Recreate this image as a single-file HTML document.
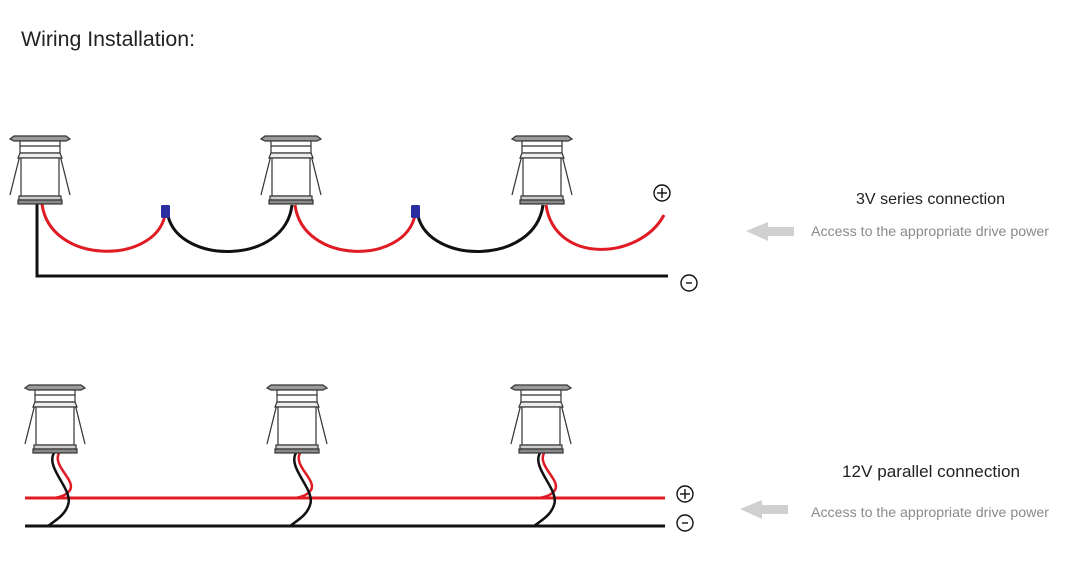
<!DOCTYPE html>
<html><head><meta charset="utf-8"><style>
html,body{margin:0;padding:0;background:#fff;}
svg{display:block;}
</style></head><body>
<svg width="1087" height="562" viewBox="0 0 1087 562" xmlns="http://www.w3.org/2000/svg">
<defs>
<g id="lamp" stroke="#333" stroke-width="1.2" fill="#fff">
<line x1="-17" y1="7" x2="-30" y2="59"/>
<line x1="17" y1="7" x2="30" y2="59"/>
<polygon points="-30,3 -26,0 26,0 30,3 26,5 -26,5" fill="#9a9a9a"/>
<rect x="-20" y="5" width="40" height="12"/>
<line x1="-20" y1="10" x2="20" y2="10"/>
<polygon points="-20,17 20,17 22,22 -22,22" fill="#eee"/>
<rect x="-19" y="22" width="38" height="38"/>
<rect x="-21" y="60" width="42" height="4" fill="#ccc"/>
<rect x="-22" y="64" width="44" height="4" fill="#888"/>
</g>
</defs>
<text x="21" y="46" font-family="Liberation Sans, sans-serif" font-size="21" fill="#222" textLength="174" lengthAdjust="spacingAndGlyphs">Wiring Installation:</text>

<!-- top series -->
<g fill="none" stroke-width="3">
<polyline points="37,204 37,276 668,276" stroke="#111"/>
<path d="M42,204 C50,265 155,265 165,215" stroke="#e01b24"/>
<path d="M168,216 C180,265 285,265 292,205" stroke="#111"/>
<path d="M295,205 C303,265 405,265 415,215" stroke="#e01b24"/>
<path d="M418,216 C430,265 535,265 543,205" stroke="#111"/>
<path d="M546,205 C555,265 640,260 664,215" stroke="#e01b24"/>
</g>
<rect x="161" y="205" width="9" height="13" rx="1.5" fill="#2a2ea0"/>
<rect x="411" y="205" width="9" height="13" rx="1.5" fill="#2a2ea0"/>
<use href="#lamp" x="40" y="136"/>
<use href="#lamp" x="291" y="136"/>
<use href="#lamp" x="542" y="136"/>

<g stroke="#111" stroke-width="1.4" fill="none">
<circle cx="662" cy="193" r="8"/><line x1="657" y1="193" x2="667" y2="193"/><line x1="662" y1="188" x2="662" y2="198"/>
<circle cx="689" cy="283" r="8"/><line x1="686" y1="283" x2="692" y2="283"/>
<circle cx="685" cy="494" r="8"/><line x1="680" y1="494" x2="690" y2="494"/><line x1="685" y1="489" x2="685" y2="499"/>
<circle cx="685" cy="523" r="8"/><line x1="682" y1="523" x2="688" y2="523"/>
</g>

<!-- bottom parallel -->
<line x1="25" y1="498" x2="665" y2="498" stroke="#e01b24" stroke-width="3"/>
<line x1="25" y1="526" x2="665" y2="526" stroke="#111" stroke-width="3"/>
<g fill="none" stroke-width="2.5">
<path d="M59,453 C52,466 76,480 70,490 C67,495 60,497 54,498" stroke="#e01b24"/>
<path d="M54,453 C45,468 74,490 68,505 C65,515 56,520 48,526" stroke="#111"/>
<path d="M300,453 C293,466 317,480 311,490 C308,495 301,497 295,498" stroke="#e01b24"/>
<path d="M296,453 C287,468 316,490 310,505 C307,515 298,520 290,526" stroke="#111"/>
<path d="M544,453 C537,466 561,480 555,490 C552,495 545,497 539,498" stroke="#e01b24"/>
<path d="M540,453 C531,468 560,490 554,505 C551,515 542,520 534,526" stroke="#111"/>
</g>
<use href="#lamp" x="55" y="385"/>
<use href="#lamp" x="297" y="385"/>
<use href="#lamp" x="541" y="385"/>

<!-- labels -->
<polygon points="746,231 768,222 768,227 794,227 794,236 768,236 768,241" fill="#d0d0d0"/>
<text x="856" y="204" font-family="Liberation Sans, sans-serif" font-size="16" fill="#222" textLength="149" lengthAdjust="spacingAndGlyphs">3V series connection</text>
<text x="811" y="236" font-family="Liberation Sans, sans-serif" font-size="14" fill="#8a8a8a" textLength="238" lengthAdjust="spacingAndGlyphs">Access to the appropriate drive power</text>

<polygon points="740,509 762,500 762,505 788,505 788,514 762,514 762,519" fill="#d0d0d0"/>
<text x="842" y="477" font-family="Liberation Sans, sans-serif" font-size="17" fill="#222" textLength="178" lengthAdjust="spacingAndGlyphs">12V parallel connection</text>
<text x="811" y="517" font-family="Liberation Sans, sans-serif" font-size="14" fill="#8a8a8a" textLength="238" lengthAdjust="spacingAndGlyphs">Access to the appropriate drive power</text>
</svg>
</body></html>
